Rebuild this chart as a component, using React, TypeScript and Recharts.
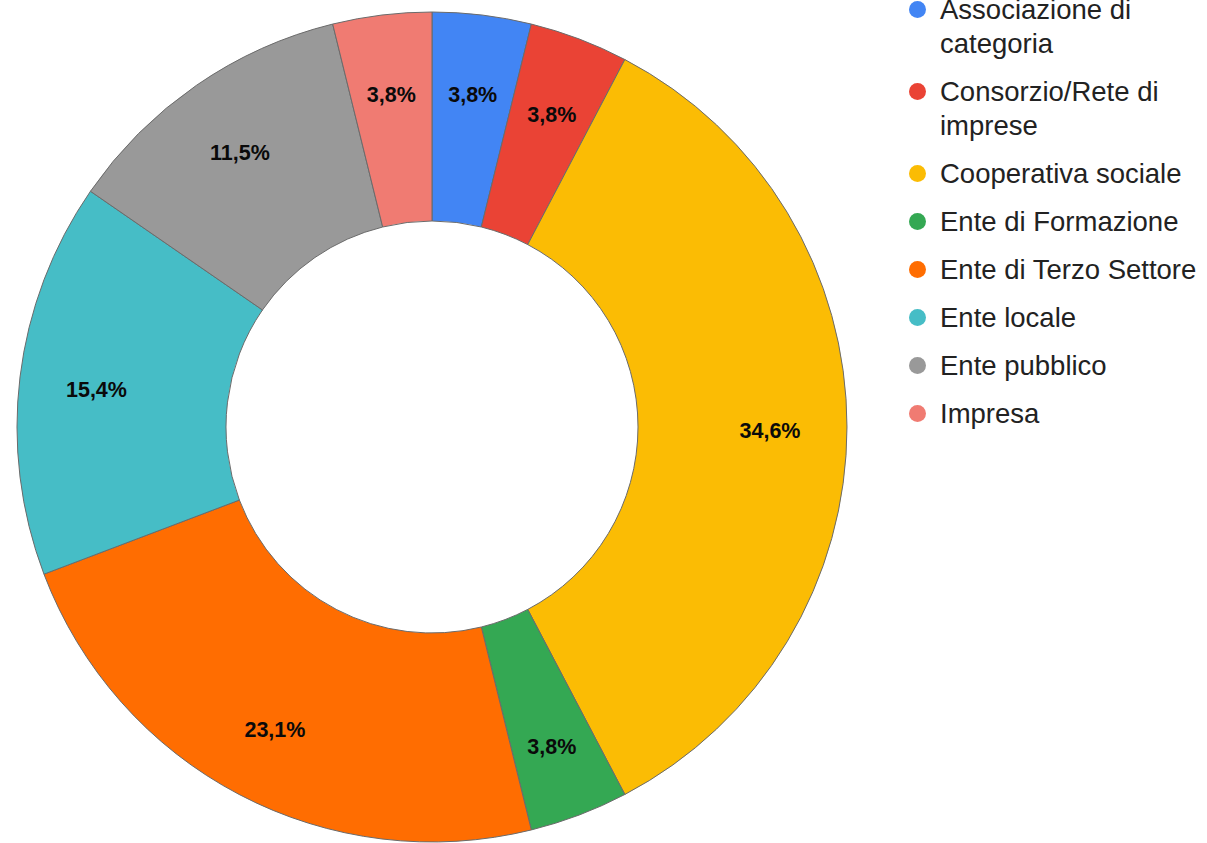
import { PieChart, Pie, Cell, Legend } from "recharts";

const categories = [
  "Associazione di categoria",
  "Consorzio/Rete di imprese",
  "Cooperativa sociale",
  "Ente di Formazione",
  "Ente di Terzo Settore",
  "Ente locale",
  "Ente pubblico",
  "Impresa",
];

const counts = [1, 1, 9, 1, 6, 4, 3, 1];

const COLORS = [
  "#4285F4",
  "#EA4335",
  "#FBBC04",
  "#34A853",
  "#FF6D01",
  "#46BDC6",
  "#999999",
  "#F07B72",
];

const data = categories.map((name, i) => ({ name, value: counts[i] }));

const RADIAN = Math.PI / 180;

function renderLabel(props: any) {
  const { cx, cy, midAngle, percent } = props;
  const r = 338;
  const x = cx + r * Math.cos(-midAngle * RADIAN);
  const y = cy + r * Math.sin(-midAngle * RADIAN) + 4;
  return (
    <text
      x={x}
      y={y}
      textAnchor="middle"
      dominantBaseline="central"
      fill="#0a0a0a"
      fontSize={21.5}
      fontWeight="bold"
      fontFamily="'Liberation Sans', Arial, sans-serif"
    >
      {(percent * 100).toFixed(1).replace(".", ",")}%
    </text>
  );
}

function LegendContent() {
  return (
    <div style={{ fontFamily: "'Liberation Sans', Arial, sans-serif" }}>
      {data.map((d, i) => (
        <div
          key={d.name}
          style={{ display: "flex", alignItems: "flex-start", marginBottom: 14 }}
        >
          <span
            style={{
              width: 17,
              height: 17,
              borderRadius: "50%",
              background: COLORS[i],
              marginTop: 8,
              marginRight: 14,
              flexShrink: 0,
            }}
          />
          <span
            style={{ fontSize: 27.5, lineHeight: "34px", color: "#222", width: 268 }}
          >
            {d.name}
          </span>
        </div>
      ))}
    </div>
  );
}

export default function App() {
  return (
    <div style={{ position: "absolute", left: 0, top: 0, background: "#fff" }}>
      <PieChart
        width={1207}
        height={843}
        margin={{ top: 0, right: 0, bottom: 0, left: 0 }}
      >
        <Pie
          data={data}
          dataKey="value"
          nameKey="name"
          cx={432}
          cy={427}
          innerRadius={206}
          outerRadius={415}
          startAngle={90}
          endAngle={-270}
          stroke="#6b6b6b"
          strokeWidth={1}
          label={renderLabel}
          labelLine={false}
          isAnimationActive={false}
        >
          {data.map((_, i) => (
            <Cell key={i} fill={COLORS[i]} />
          ))}
        </Pie>
        <Legend
          layout="vertical"
          align="right"
          verticalAlign="top"
          content={<LegendContent />}
          wrapperStyle={{ left: 909, top: -7, width: 298 }}
        />
      </PieChart>
    </div>
  );
}
